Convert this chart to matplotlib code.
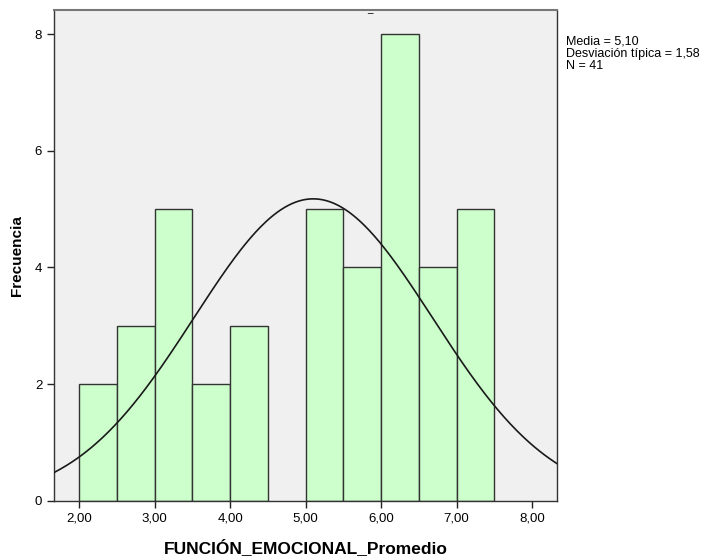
import numpy as np
import matplotlib.pyplot as plt

plt.rcParams['font.family'] = ['Liberation Sans', 'DejaVu Sans']

# Histogram bins (width 0.5) and frequencies
bin_edges = [2.0, 2.5, 3.0, 3.5, 4.0, 4.5, 5.0, 5.5, 6.0, 6.5, 7.0, 7.5]
counts = [2, 3, 5, 2, 3, 0, 5, 4, 8, 4, 5]
media = 5.10
desv = 1.58
n = 41
xticks = [2, 3, 4, 5, 6, 7, 8]
xtick_labels = ['2,00', '3,00', '4,00', '5,00', '6,00', '7,00', '8,00']
yticks = [0, 2, 4, 6, 8]

fig = plt.figure(figsize=(7.07, 5.6), dpi=100)
ax = fig.add_axes([0.0764, 0.1054, 0.7114, 0.8766])
ax.set_facecolor('#F0F0F0')

lefts = bin_edges[:-1]
widths = np.diff(bin_edges)
for x0, w, c in zip(lefts, widths, counts):
    if c > 0:
        ax.bar(x0, c, width=w, align='edge', color='#CCFFCC',
               edgecolor='#333333', linewidth=1.0, zorder=2)

# Normal curve scaled to counts
xs = np.linspace(1.665, 8.33, 400)
binw = 0.5
ys = n * binw / (desv * np.sqrt(2 * np.pi)) * np.exp(-0.5 * ((xs - media) / desv) ** 2)
ax.plot(xs, ys, color='#1a1a1a', linewidth=1.2, zorder=3)

ax.set_xlim(1.665, 8.33)
ax.set_ylim(0, 8.41)
ax.set_xticks(xticks)
ax.set_xticklabels(xtick_labels)
ax.set_yticks(yticks)
ax.tick_params(labelsize=9.5, length=5, color='#222222', width=1)
for s in ax.spines.values():
    s.set_color('#333333')
    s.set_linewidth(1.0)
ax.spines['top'].set_color('#777777')
ax.spines['top'].set_linewidth(1.5)

ax.set_xlabel('FUNCIÓN_EMOCIONAL_Promedio', fontsize=12.5, fontweight='bold', labelpad=10)
ax.set_ylabel('Frecuencia', fontsize=11, fontweight='bold', labelpad=8)

fig.text(0.801, 0.937, 'Media = 5,10\nDesviación típica = 1,58\nN = 41',
         fontsize=9, va='top', ha='left', linespacing=1.05)
fig.text(0.523, 0.975, '_', fontsize=7, ha='center', va='bottom')

fig.savefig('out.png', dpi=100)
